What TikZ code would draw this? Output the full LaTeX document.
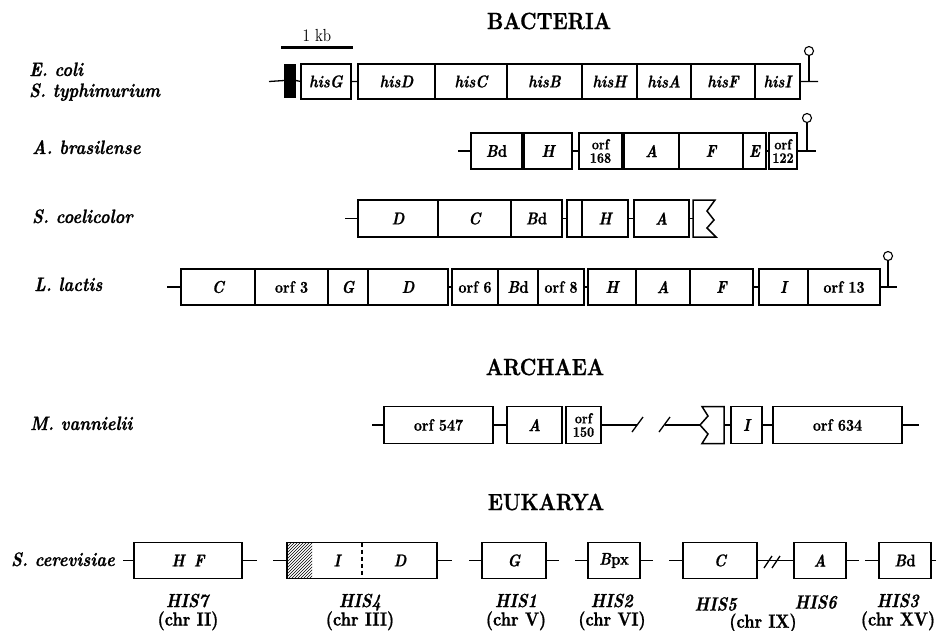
\documentclass[tikz,border=0pt]{standalone}
\usepackage{fontspec}
\setmainfont{lmroman10-regular.otf}[BoldFont=lmroman10-bold.otf,ItalicFont=lmroman10-italic.otf,BoldItalicFont=lmroman10-bolditalic.otf,FakeStretch=0.85,BoldFeatures={FakeBold=0.8},BoldItalicFeatures={FakeBold=0.8}]
\usetikzlibrary{patterns}
\newcommand\fGene{\fontsize{17}{18}\selectfont\bfseries\itshape}
\newcommand\fOrf{\fontsize{16.5}{17}\selectfont\bfseries\upshape}
\newcommand\fStack{\fontsize{14.5}{13.5}\selectfont\bfseries\upshape}
\newcommand\fSpec{\fontsize{19.5}{20}\selectfont\bfseries\itshape}
\newcommand\fHead{\fontsize{23.5}{26}\selectfont\bfseries}
\newcommand\fHis{\fontsize{19}{18.5}\selectfont\bfseries}
\newcommand\BdTxt{B\textup{d}}
\newcommand\gb[6][]{\node[gbox,minimum width={#4-#3},#1] (#2) at ({(#3+#4)/2},#5) {#6};}
\newcommand\term[3]{\draw[conn] (#1,#2) -- (#1,#3+4.5); \draw[thinl] (#1,#3) circle[radius=4.5pt];}
\begin{document}
\begin{tikzpicture}[x=1pt,y=-1pt,
  gbox/.style={draw,line width=1.4pt,inner sep=0pt,outer sep=0pt,minimum height=36pt,font=\fGene},
  orfb/.style={font=\fOrf},
  stk/.style={font=\fStack,align=center},
  conn/.style={line width=1.3pt},
  thinl/.style={line width=1.1pt},
  brk/.style={draw,line width=1.5pt,line join=miter},
  spec/.style={font=\fSpec,anchor=base west,inner sep=0pt},
  head/.style={font=\fHead,inner sep=0pt},
  hisl/.style={font=\fHis,align=center,inner sep=0pt}]
\fill[white] (0,0) rectangle (936,630);
\useasboundingbox (0,0) rectangle (936,630);

% headers
\node[head] (hB) at (549,21) {BACTERIA};
\node[head] (hA) at (545,367) {ARCHAEA};
\node[head] (hE) at (546,502) {EUKARYA};

% scale bar
\coordinate (kbL) at (281,47);
\coordinate (kbR) at (353,47);
\draw[line width=3pt] (kbL) -- (kbR);
\node[font=\fontsize{17.5}{18}\selectfont,inner sep=0pt] (kb) at (317,36) {1 kb};

% species labels
\node[spec] (sEc) at (29,76) {E. coli};
\node[spec] (sSt) at (29,97) {S. typhimurium};
\node[spec] (sAb) at (32,154) {A. brasilense};
\node[spec] (sSc) at (32,223) {S. coelicolor};
\node[spec] (sLl) at (34,291) {L. lactis};
\node[spec] (sMv) at (30,430) {M. vannielii};
\node[spec] (sCe) at (11,566) {S. cerevisiae};

% ---- E. coli / S. typhimurium
\coordinate (ecS) at (269,81.5);
\node[draw,fill=black,inner sep=0pt,minimum width=11pt,minimum height=33pt] (ecP) at (290,80.5) {};
\gb[minimum height=35pt]{ecG}{301}{351}{81.5}{hisG}
\gb[minimum height=35pt]{ecD}{358}{435}{81.5}{hisD}
\gb[minimum height=35pt]{ecC}{435}{507}{81.5}{hisC}
\gb[minimum height=35pt]{ecB}{507}{582}{81.5}{hisB}
\gb[minimum height=35pt]{ecH}{582}{637}{81.5}{hisH}
\gb[minimum height=35pt]{ecA}{637}{691}{81.5}{hisA}
\gb[minimum height=35pt]{ecF}{691}{755}{81.5}{hisF}
\gb[minimum height=35pt]{ecI}{755}{800}{81.5}{hisI}
\coordinate (ecE) at (818,81.5);
\draw[conn] (ecS) -- (ecP.west) (ecP.east) -- (ecG.west) (ecG.east) -- (ecD.west) (ecI.east) -- (ecE);
\term{809}{81.5}{51}

% ---- A. brasilense
\coordinate (abS) at (458,151);
\gb{abBd}{471}{522}{151}{\BdTxt}
\gb{abH}{524}{572}{151}{H}
\gb[stk]{ab168}{579}{622}{151}{orf\\168}
\gb{abA}{624}{679}{151}{A}
\gb{abF}{679}{743}{151}{F}
\gb{abE}{743}{766}{151}{E}
\gb[stk]{ab122}{769}{797}{151}{orf\\122}
\coordinate (abEnd) at (816,151);
\draw[conn] (abS) -- (abBd.west) (abBd.east) -- (abH.west) (abH.east) -- (ab168.west)
  (ab168.east) -- (abA.west) (abE.east) -- (ab122.west) (ab122.east) -- (abEnd);
\term{807}{151}{118}

% ---- S. coelicolor
\coordinate (scS) at (345,218.5);
\gb[minimum height=37pt]{scD}{358}{438}{218.5}{D}
\gb[minimum height=37pt]{scC}{438}{511}{218.5}{C}
\gb[minimum height=37pt]{scBd}{511}{562}{218.5}{\BdTxt}
\gb[minimum height=37pt]{scN}{567}{582}{218.5}{}
\gb[minimum height=37pt]{scH}{582}{628}{218.5}{H}
\gb[minimum height=37pt]{scA}{634}{689}{218.5}{A}
\coordinate (scB) at (693,218.5);
\draw[brk] (693,200) -- (715,200) -- (707,211) -- (714,220) -- (707,228) -- (716,237) -- (693,237) -- cycle;
\draw[conn] (scS) -- (scD.west) (scBd.east) -- (scN.west) (scH.east) -- (scA.west) (scA.east) -- (scB);

% ---- L. lactis
\coordinate (llS) at (167,287);
\gb{llC}{181}{255}{287}{C}
\gb[orfb]{ll3}{255}{328}{287}{orf 3}
\gb{llG}{328}{368}{287}{G}
\gb{llD}{368}{448}{287}{D}
\gb[orfb]{ll6}{452}{498}{287}{orf 6}
\gb{llBd}{498}{538}{287}{\BdTxt}
\gb[orfb]{ll8}{538}{584}{287}{orf 8}
\gb{llH}{588}{636}{287}{H}
\gb{llA}{636}{690}{287}{A}
\gb{llF}{690}{753}{287}{F}
\gb{llI}{759}{808}{287}{I}
\gb[orfb]{ll13}{808}{880}{287}{orf 13}
\coordinate (llE) at (897,287);
\draw[conn] (llS) -- (llC.west) (llD.east) -- (ll6.west) (ll8.east) -- (llH.west)
  (llF.east) -- (llI.west) (ll13.east) -- (llE);
\term{888}{287}{256}

% ---- M. vannielii
\coordinate (mvS) at (372,425);
\gb[orfb,minimum height=37pt]{mv547}{384}{493}{425}{orf 547}
\gb[minimum height=37pt]{mvA}{507}{562}{425}{A}
\gb[stk,minimum height=37pt]{mv150}{566}{601}{425}{orf\\150}
\coordinate (mvX1) at (637,425);
\coordinate (mvX2) at (665,425);
\draw[conn] (632,432) -- (643,417);
\draw[conn] (659,432) -- (670,417);
\coordinate (mvB) at (700,425);
\draw[brk] (702,406.5) -- (724,406.5) -- (724,443.5) -- (702,443.5) -- (708,434) -- (700,425) -- (708,416) -- cycle;
\coordinate (mvBr) at (724,425);
\gb[minimum height=37pt]{mvI}{731}{762}{425}{I}
\gb[orfb,minimum height=37pt]{mv634}{773}{902}{425}{orf 634}
\coordinate (mvE) at (919,425);
\draw[conn] (mvS) -- (mv547.west) (mv547.east) -- (mvA.west) (mv150.east) -- (mvX1)
  (mvX2) -- (mvB) (mvBr) -- (mvI.west) (mvI.east) -- (mv634.west) (mv634.east) -- (mvE);

% ---- S. cerevisiae
\coordinate (y0) at (123,560.5);
\gb{yHF}{134}{242}{560.5}{H\hspace{0.55em}F}
\coordinate (y1) at (257,560.5);
\coordinate (y2) at (273,560.5);
\node[pattern=north east lines,inner sep=0pt,minimum width=25pt,minimum height=36pt] (y4h) at (299.5,560.5) {};
\gb{y4}{287}{437}{560.5}{}
\node[font=\fGene] (y4I) at (337,560.5) {I};
\node[font=\fGene] (y4D) at (400,560.5) {D};
\draw[line width=1.1pt,dash pattern=on 4pt off 3pt] (362,542.5) -- (362,578.5);
\coordinate (y3) at (452,560.5);
\coordinate (y5) at (469,560.5);
\gb{yG}{482}{546}{560.5}{G}
\coordinate (y6) at (559,560.5);
\coordinate (y7) at (575,560.5);
\gb{yB}{588}{640}{560.5}{B\textup{px}}
\coordinate (y8) at (653,560.5);
\coordinate (y9) at (669,560.5);
\gb{yC}{683}{757}{560.5}{C}
\gb{yA}{794}{846}{560.5}{A}
\coordinate (y10) at (859,560.5);
\coordinate (y11) at (865,560.5);
\gb{yBd}{879}{931}{560.5}{\BdTxt}
\coordinate (y12) at (936,560.5);
\draw[conn] (y0) -- (yHF.west) (yHF.east) -- (y1) (y2) -- (y4.west) (y4.east) -- (y3)
  (y5) -- (yG.west) (yG.east) -- (y6) (y7) -- (yB.west) (yB.east) -- (y8)
  (y9) -- (yC.west) (yC.east) -- (yA.west) (yA.east) -- (y10) (y11) -- (yBd.west) (yBd.east) -- (y12);
\draw[conn] (764,568) -- (772,556);
\draw[conn] (772,568) -- (780,556);

% gene names below
\node[hisl] (n7) at (188,612) {\textit{HIS7}\\(chr II)};
\node[hisl] (n4) at (360,612) {\textit{HIS4}\\(chr III)};
\node[hisl] (n1) at (516,612) {\textit{HIS1}\\(chr V)};
\node[hisl] (n2) at (612,612) {\textit{HIS2}\\(chr VI)};
\node[hisl] (n5) at (716,604) {\textit{HIS5}};
\node[hisl] (n6) at (816,602) {\textit{HIS6}};
\node[hisl] (n9) at (763,623) {(chr IX)};
\node[hisl] (n3) at (898,612) {\textit{HIS3}\\(chr XV)};
\end{tikzpicture}
\end{document}
